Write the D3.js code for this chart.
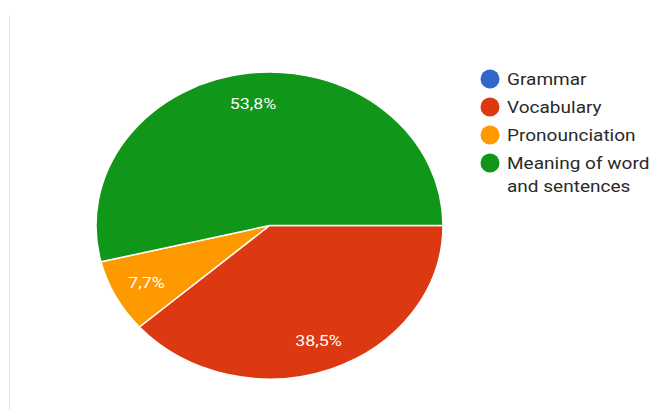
<!DOCTYPE html>
<html>
<head>
<meta charset="utf-8">
<script src="https://cdn.jsdelivr.net/npm/d3@7"></script>
<style>
html,body{margin:0;padding:0;background:#fff;}
svg{display:block;}
</style>
</head>
<body>
<svg id="chart" width="653" height="410"></svg>
<script>
const categories = ["Grammar", "Vocabulary", "Pronounciation", "Meaning of word and sentences"];
const values = [0, 38.5, 7.7, 53.8];
const labels = ["0%", "38,5%", "7,7%", "53,8%"];
const colors = ["#3366cc", "#dc3912", "#ff9900", "#109618"];
const legendLines = [["Grammar"], ["Vocabulary"], ["Pronounciation"], ["Meaning of word", "and sentences"]];

const svg = d3.select("#chart");
const W = 653, H = 410;
svg.append("rect").attr("width", W).attr("height", H).attr("fill", "#fff");
svg.append("line").attr("x1", 9.5).attr("x2", 9.5).attr("y1", 15).attr("y2", H)
  .attr("stroke", "#e2e2e2").attr("stroke-width", 1);

const cx = 269.5, cy = 225.5, rx = 173.5, ry = 153.5;
const data = categories.map((c, i) => ({cat: c, value: values[i], label: labels[i], color: colors[i]}));

const pie = d3.pie().value(d => d.value).sort(null)
  .startAngle(Math.PI / 2).endAngle(Math.PI / 2 + 2 * Math.PI);
const arcs = pie(data);
const arc = d3.arc().innerRadius(0).outerRadius(rx);

const g = svg.append("g").attr("transform", `translate(${cx},${cy}) scale(1,${ry / rx})`);
g.selectAll("path").data(arcs.filter(d => d.data.value > 0)).join("path")
  .attr("d", arc)
  .attr("fill", d => d.data.color)
  .attr("stroke", "#fff")
  .attr("stroke-width", 1.5)
  .attr("vector-effect", "non-scaling-stroke");

const labelArc = d3.arc().innerRadius(0.8 * rx).outerRadius(0.8 * rx);
svg.append("g").selectAll("text").data(arcs.filter(d => d.data.value > 0)).join("text")
  .attr("transform", d => `translate(${cx + labelArc.centroid(d)[0]},${cy + labelArc.centroid(d)[1] * ry / rx}) scale(1.15,1)`)
  .attr("dy", "0.36em")
  .attr("text-anchor", "middle")
  .attr("fill", "#fff")
  .attr("font-family", "Roboto, Arial, sans-serif")
  .attr("font-size", 15.5)
  .text(d => d.data.label);

const legend = svg.append("g").attr("transform", "translate(490,79)");
const ly = [0, 28, 56, 84];
data.forEach((d, i) => {
  const item = legend.append("g").attr("transform", `translate(0,${ly[i]})`);
  item.append("circle").attr("r", 9.5).attr("fill", d.color);
  legendLines[i].forEach((t, j) => {
    item.append("text").attr("transform", `translate(17,${j * 23}) scale(1.12,1)`).attr("dy", "0.36em")
      .attr("font-family", "Roboto, Arial, sans-serif").attr("font-size", 17)
      .attr("fill", "#2a2a2a").text(t);
  });
});
</script>
</body>
</html>
